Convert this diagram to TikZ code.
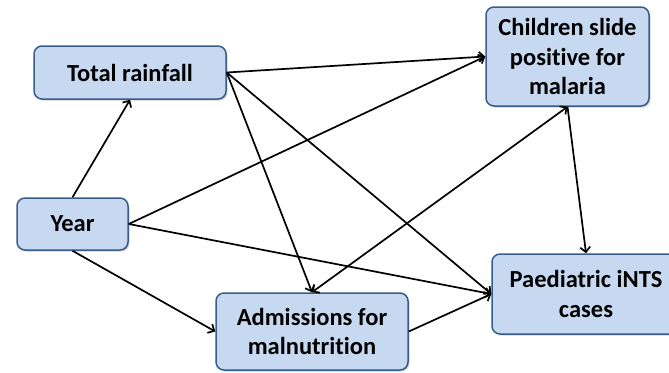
\documentclass[tikz,border=0pt]{standalone}
\usepackage{fontspec}
\setmainfont{Carlito}[Ligatures=NoCommon]
\usetikzlibrary{arrows.meta, shadows, positioning}
\definecolor{boxfill}{RGB}{198,217,241}
\definecolor{boxline}{RGB}{56,93,138}

\begin{document}
\begin{tikzpicture}[x=1pt, y=-1pt,
	var/.style={draw=boxline, fill=boxfill, line width=1.5pt, rounded corners=8pt,
		align=center, font=\fontsize{24.5}{29.5}\selectfont\bfseries, inner sep=0pt,
		drop shadow={opacity=0.35, shadow xshift=1.5pt, shadow yshift=-1.5pt}},
	arr/.style={-{Straight Barb[length=5pt,width=10pt]}, line width=1.7pt}]
	\useasboundingbox (0,0) rectangle (669,372);
	\node[var, minimum width=192pt, minimum height=53pt] (rain) at (130,72.5) {Total rainfall};
	\node[var, minimum width=163pt, minimum height=99pt] (child) at (567.5,56.5) {Children slide\\positive for\\malaria};
	\node[var, minimum width=111pt, minimum height=52pt] (year) at (72.5,224) {Year};
	\node[var, minimum width=192pt, minimum height=77pt] (adm) at (312,331.5) {Admissions for\\malnutrition};
	\node[var, minimum width=188pt, minimum height=80pt] (ints) at (586,294) {Paediatric iNTS\\cases};
	\draw[arr] (year.north) -- (rain.south);
	\draw[arr] (rain.east) -- (child.west);
	\draw[arr] (rain.east) -- (adm.north);
	\draw[arr] (rain.east) -- (ints.west);
	\draw[arr] (year.east) -- (child.west);
	\draw[arr] (year.east) -- (ints.west);
	\draw[arr] (year.south) -- (adm.west);
	\draw[arr, {Straight Barb[length=5pt,width=10pt]}-{Straight Barb[length=5pt,width=10pt]}] (adm.north) -- (child.south);
	\draw[arr] (child.south) -- (ints.north);
	\draw[arr] (adm.east) -- (ints.west);
\end{tikzpicture}
\end{document}
